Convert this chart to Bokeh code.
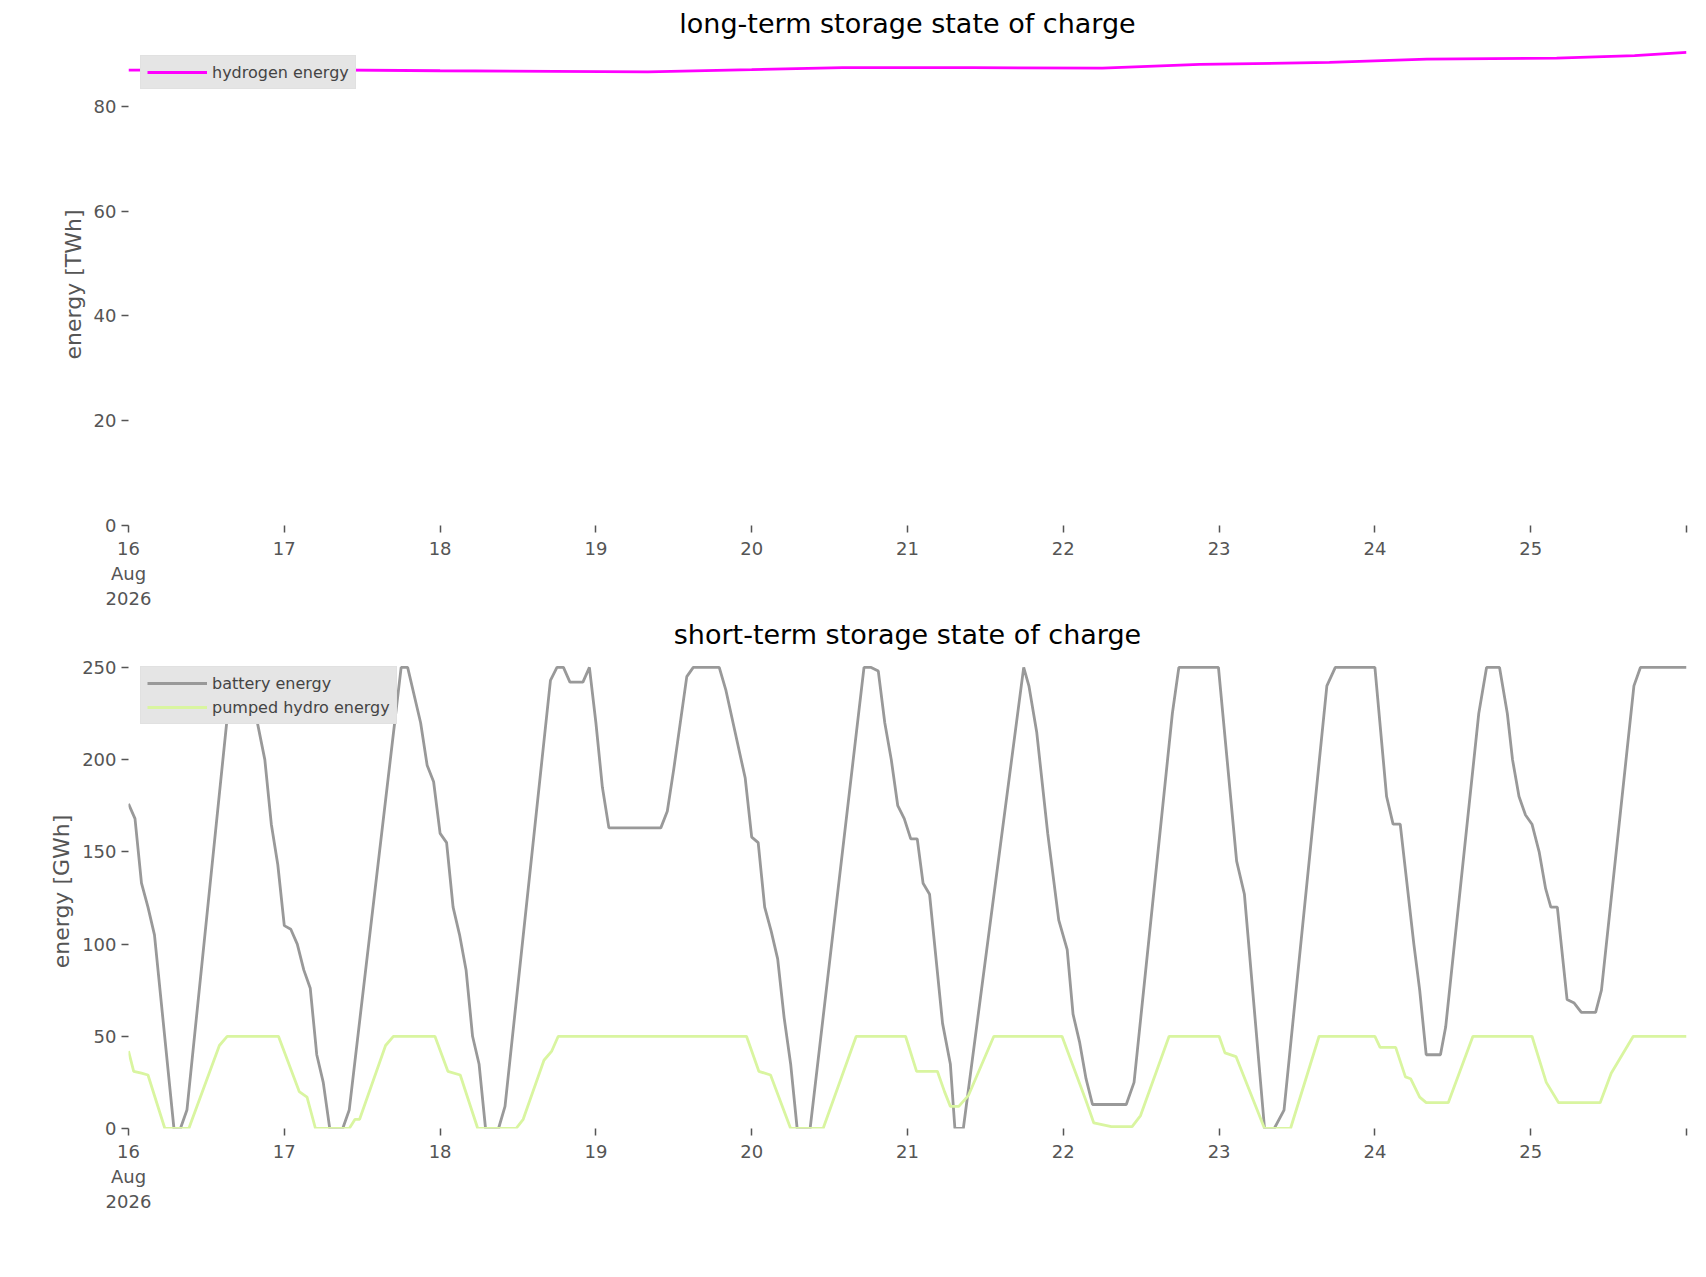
from bokeh.embed import file_html
from bokeh.resources import INLINE
from bokeh.layouts import column
from bokeh.models import FixedTicker
from bokeh.plotting import figure

# hours since 16 Aug 2026 00:00
h2_hours = [0, 24, 48, 80, 96, 110, 130, 150, 165, 185, 200, 210, 220, 232, 240]
h2_twh = [86.9, 87.0, 86.8, 86.6, 87.0, 87.4, 87.4, 87.3, 88.0, 88.4, 89.0, 89.1, 89.2, 89.7, 90.3]

bat_hours = [0, 1, 2, 3, 4, 7, 8, 9, 16, 17, 19, 21, 22, 23, 24, 25, 26, 27, 28, 29, 30, 31,
             33, 34, 41, 42, 43, 45, 46, 47, 48, 49, 50, 51, 52, 53, 54, 55, 57, 58, 65, 66, 67,
             68, 70, 71, 72, 73, 74, 82, 83, 84, 86, 87, 91, 92, 95, 96, 97, 98, 99, 100, 101,
             102, 103, 105, 113.3, 114.4, 115.5, 116.5, 117.5, 118.5, 119.5, 120.5, 121.5,
             122.4, 123.4, 125.4, 126.6, 127.3, 128.6, 137.9, 138.7, 139.9, 141.6, 143.3,
             144.6, 145.5, 146.5, 147.5, 148.5, 153.7, 154.9, 160.8, 161.8, 167.9, 170.7,
             171.9, 175, 176.5, 178, 184.6, 185.9, 192, 193.8, 194.8, 195.9, 198, 198.9, 199.9,
             202.1, 202.9, 208, 209.2, 211.2, 212.4, 213.2, 214.2, 215.2, 216.2, 217.3, 218.3,
             219.1, 220.1, 221.6, 222.7, 223.8, 226, 226.9, 231.9, 232.9, 240]
bat_gwh = [176, 168, 133, 120, 105, 0, 0, 10, 250, 250, 235, 200, 165, 143, 110, 108, 100, 86,
           76, 40, 25, 0, 0, 10, 220, 250, 250, 220, 197, 188, 160, 155, 120, 105, 86, 50, 35, 0,
           0, 12, 243, 250, 250, 242, 242, 250, 220, 185, 163, 163, 172, 195, 245, 250, 250, 238,
           190, 158, 155, 120, 107, 92, 60, 35, 0, 0, 250, 250, 248, 220, 200, 175, 168, 157,
           157, 133, 127, 57, 35, 0, 0, 250, 240, 215, 160, 113, 97, 62, 47, 27, 13, 13, 25, 225,
           250, 250, 145, 127, 0, 0, 10, 240, 250, 250, 180, 165, 165, 100, 75, 40, 40, 55, 225,
           250, 250, 225, 200, 180, 170, 165, 150, 130, 120, 120, 70, 68, 63, 63, 75, 240, 250,
           250]

ph_hours = [0, 0.8, 2, 3, 5.6, 9.3, 9.6, 14, 15.2, 23.1, 26.3, 27.5, 28.8, 34, 34.9, 35.6,
            39.6, 40.8, 47.2, 49.2, 51.1, 53.8, 59.7, 60.8, 64, 65.2, 66.2, 95.2, 97.1, 98.9,
            102, 107, 112.1, 119.7, 121.4, 124.6, 125.7, 126.6, 127.9, 129.4, 133.3, 143.8,
            147.5, 148.7, 151.4, 154.6, 155.9, 160.3, 168, 168.9, 170.6, 175, 179, 183.4, 192,
            192.8, 195.2, 196.7, 197.5, 198.9, 199.9, 203.3, 207.1, 216.2, 218.4, 220.3, 226.7,
            228.4, 231.8, 240]
ph_gwh = [42, 31, 30, 29, 0, 0, 3, 45, 50, 50, 20, 17, 0, 0, 5, 5, 45, 50, 50, 31, 29, 0, 0, 5,
          37, 42, 50, 50, 31, 29, 0, 0, 50, 50, 31, 31, 20, 12, 12, 18, 50, 50, 15, 3, 1, 1, 7,
          50, 50, 41, 39, 0, 0, 50, 50, 44, 44, 28, 27, 17, 14, 14, 50, 50, 25, 14, 14, 30, 50,
          50]

tick_hours = [0, 24, 48, 72, 96, 120, 144, 168, 192, 216, 240]
tick_labels = ["16\nAug\n2026", "17", "18", "19", "20", "21", "22", "23", "24", "25", ""]


def make_fig(title, ymax, ylabel, fh, top):
    p = figure(frame_width=1558, frame_height=fh, x_range=(0, 240), y_range=(0, ymax),
               output_backend="svg", toolbar_location=None, title=title,
               min_border_left=128, min_border_right=10, min_border_top=top)
    p.title.align = "center"
    p.title.text_font_size = "27px"
    p.title.text_font_style = "normal"
    p.title.text_color = "black"
    p.title.text_font = "DejaVu Sans"
    p.outline_line_color = None
    p.grid.grid_line_color = None
    for ax in (p.xaxis, p.yaxis):
        ax.axis_line_color = None
        ax.major_tick_line_color = "#555555"
        ax.major_tick_line_width = 1.5
        ax.minor_tick_line_color = None
        ax.major_tick_in = 0
        ax.major_tick_out = 7
        ax.major_label_text_font_size = "18px"
        ax.major_label_text_color = "#555555"
        ax.major_label_text_font = "DejaVu Sans"
    p.xaxis.ticker = FixedTicker(ticks=tick_hours)
    p.xaxis.major_label_overrides = dict(zip(tick_hours, tick_labels))
    p.yaxis.axis_label = ylabel
    p.yaxis.axis_label_text_font_size = "22px"
    p.yaxis.axis_label_text_font_style = "normal"
    p.yaxis.axis_label_text_color = "#555555"
    p.yaxis.axis_label_text_font = "DejaVu Sans"
    return p


def style_legend(p):
    p.legend.location = "top_left"
    p.legend.background_fill_color = "#e5e5e5"
    p.legend.background_fill_alpha = 1
    p.legend.border_line_color = "#dddddd"
    p.legend.label_text_font_size = "16px"
    p.legend.label_text_font = "DejaVu Sans"
    p.legend.glyph_width = 60
    p.legend.spacing = 4
    p.legend.padding = 6
    p.legend.margin = 12


p1 = make_fig("long-term storage state of charge", 92, "energy [TWh]", 482, 20)
p1.yaxis.ticker = FixedTicker(ticks=[0, 20, 40, 60, 80])
p1.line(h2_hours, h2_twh, line_color="#ff00ff", line_width=2.8, legend_label="hydrogen energy")
style_legend(p1)

p2 = make_fig("short-term storage state of charge", 257, "energy [GWh]", 474, 10)
p2.yaxis.ticker = FixedTicker(ticks=[0, 50, 100, 150, 200, 250])
p2.line(bat_hours, bat_gwh, line_color="#999999", line_width=2.8, legend_label="battery energy")
p2.line(ph_hours, ph_gwh, line_color="#d9f5a0", line_width=2.8, legend_label="pumped hydro energy")
style_legend(p2)

layout = column(p1, p2, spacing=0)
open("out.html", "w").write(file_html(layout, INLINE))
